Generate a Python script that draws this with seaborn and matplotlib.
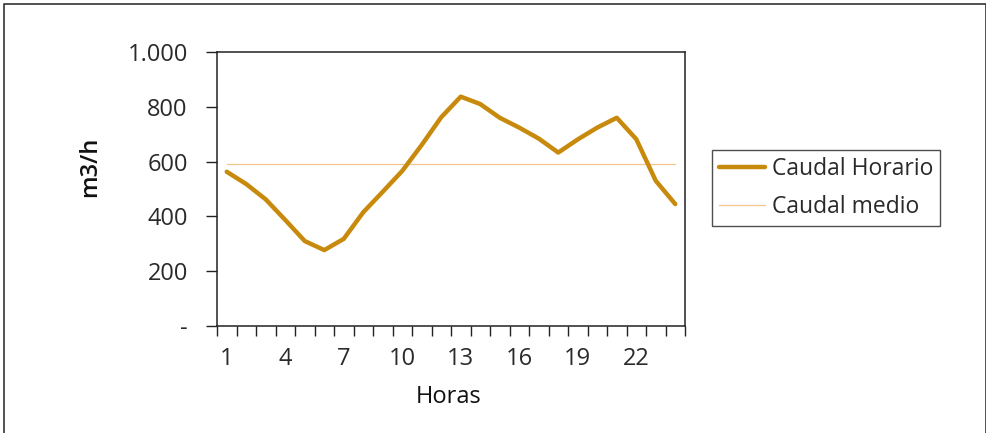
import numpy as np
import pandas as pd
import matplotlib
matplotlib.use("Agg")
import matplotlib.pyplot as plt
from matplotlib.lines import Line2D
import seaborn as sns

# Data:
horas = list(range(1, 25))
caudal_horario = [563, 518, 462, 387, 310, 277, 318, 415, 490, 566, 661, 762,
                  837, 810, 760, 724, 684, 633, 681, 724, 760, 682, 530, 445]
caudal_medio = 590
y_ticks = [0, 200, 400, 600, 800, 1000]
y_tick_labels = ["-", "200", "400", "600", "800", "1.000"]
x_tick_values = [1, 4, 7, 10, 13, 16, 19, 22]

df = pd.DataFrame({"Horas": horas, "Caudal Horario": caudal_horario})
df["Caudal medio"] = caudal_medio

sns.set_style("white")
plt.rcParams["font.family"] = ["Open Sans", "DejaVu Sans"]

W, H = 987, 433
fig = plt.figure(figsize=(W / 100, H / 100), dpi=100)
ax = fig.add_axes([217 / W, 1 - 326 / H, (685 - 217) / W, (326 - 52) / H])

main_col = "#C78A0C"
mean_col = "#F0C68E"
txt_col = "#2a2a2a"

sns.lineplot(data=df, x="Horas", y="Caudal medio", ax=ax, color=mean_col,
             linewidth=0.9, label="Caudal medio")
sns.lineplot(data=df, x="Horas", y="Caudal Horario", ax=ax, color=main_col,
             linewidth=3.2, label="Caudal Horario")

ax.set_xlim(0.5, 24.5)
ax.set_ylim(0, 1000)
ax.set_xlabel("")
ax.set_ylabel("")

# Y axis
ax.set_yticks(y_ticks)
ax.set_yticklabels(y_tick_labels)
ax.tick_params(axis="y", direction="out", length=8, width=1, color="#222222",
               pad=13, labelsize=17, labelcolor=txt_col, left=True)

# X axis: labels in the middle of categories, tick marks at the borders
ax.set_xticks(x_tick_values)
ax.set_xticklabels([str(v) for v in x_tick_values])
ax.set_xticks(np.arange(0.5, 25, 1), minor=True)
ax.tick_params(axis="x", which="major", length=0, pad=15, labelsize=17,
               labelcolor=txt_col)
ax.tick_params(axis="x", which="minor", direction="out", length=7, width=1,
               color="#222222", bottom=True)

for side in ["left", "bottom", "right", "top"]:
    ax.spines[side].set_visible(True)
    ax.spines[side].set_color("#222222")
    ax.spines[side].set_linewidth(1.1)

# Axis titles
fig.text(90 / W, 1 - 167 / H, "m3/h", rotation=90, ha="center", va="center",
         fontsize=17, color="#111111", fontweight="semibold")
fig.text(449 / W, 1 - 397 / H, "Horas", ha="center", va="center",
         fontsize=17, color="#111111")

# Legend (Caudal Horario first)
ax.get_legend().remove()
handles = [Line2D([0], [0], color=main_col, linewidth=3.2),
           Line2D([0], [0], color=mean_col, linewidth=0.9)]
leg = fig.legend(handles, ["Caudal Horario", "Caudal medio"],
                 loc="upper left", bbox_to_anchor=(712 / W, 1 - 150 / H),
                 fontsize=16.5, frameon=True, fancybox=False, handlelength=2.0,
                 handletextpad=0.3, borderpad=0.3, labelspacing=0.6,
                 borderaxespad=0)
leg.get_frame().set_edgecolor("#222222")
leg.get_frame().set_linewidth(1.0)
for t in leg.get_texts():
    t.set_color(txt_col)

# Outer frame of the picture
fx = [4 / W, 4 / W, 986 / W, 986 / W]
fy = [0, 1 - 4 / H, 1 - 4 / H, 0]
fig.add_artist(Line2D(fx, fy, transform=fig.transFigure, color="#333333",
                      linewidth=1.2))

fig.savefig("out.png", dpi=100)
